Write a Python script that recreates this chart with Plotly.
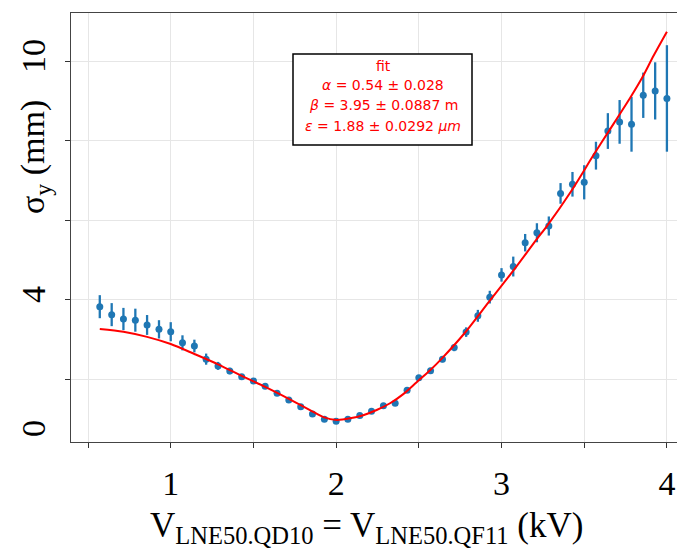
import plotly.graph_objects as go

# ---- data ----
x_kv = [0.571, 0.643, 0.714, 0.786, 0.857, 0.929, 1.0, 1.071, 1.143, 1.214,
        1.286, 1.357, 1.429, 1.5, 1.571, 1.643, 1.714, 1.786, 1.857, 1.929,
        2.0, 2.071, 2.143, 2.214, 2.286, 2.357, 2.429, 2.5, 2.571, 2.643,
        2.714, 2.786, 2.857, 2.929, 3.0, 3.071, 3.143, 3.214, 3.286, 3.357,
        3.429, 3.5, 3.571, 3.643, 3.714, 3.786, 3.857, 3.929, 4.0]
sigma_y = [3.82, 3.62, 3.51, 3.48, 3.36, 3.25, 3.19, 2.91, 2.83, 2.50,
           2.33, 2.20, 2.06, 1.95, 1.82, 1.64, 1.47, 1.30, 1.12, 0.99,
           0.94, 0.99, 1.08, 1.19, 1.33, 1.39, 1.72, 2.03, 2.21, 2.50,
           2.79, 3.18, 3.59, 4.06, 4.62, 4.83, 5.43, 5.68, 5.85, 6.67,
           6.90, 6.95, 7.62, 8.24, 8.47, 8.41, 9.14, 9.25, 9.06]
sigma_err = [0.29, 0.29, 0.28, 0.29, 0.25, 0.23, 0.24, 0.19, 0.16, 0.14,
             0.10, 0.08, 0.06, 0.05, 0.05, 0.04, 0.04, 0.04, 0.04, 0.03,
             0.03, 0.03, 0.04, 0.04, 0.04, 0.05, 0.05, 0.06, 0.07, 0.08,
             0.09, 0.12, 0.15, 0.16, 0.17, 0.25, 0.22, 0.24, 0.24, 0.26,
             0.31, 0.43, 0.35, 0.45, 0.55, 0.69, 0.57, 0.72, 1.34]

fit_x = [0.571, 0.714, 0.857, 1.0, 1.143, 1.286, 1.429, 1.571, 1.714, 1.842,
         1.923, 2.004, 2.084, 2.164, 2.245, 2.326, 2.406, 2.487, 2.568, 2.64,
         2.78, 2.92, 3.07, 3.21, 3.28, 3.42, 3.56, 3.64, 3.78, 3.85, 3.92, 4.0]
fit_y = [3.26, 3.19, 3.06, 2.88, 2.63, 2.37, 2.08, 1.80, 1.50, 1.22,
         1.04, 0.97, 1.01, 1.09, 1.22, 1.39, 1.62, 1.92, 2.22, 2.52,
         3.17, 3.92, 4.72, 5.50, 5.88, 6.72, 7.66, 8.18, 9.09, 9.58, 10.14, 10.74]

x_tickvals = [0.5, 1.0, 1.5, 2.0, 2.5, 3.0, 3.5, 4.0]
x_ticktext = ["", "1", "", "2", "", "3", "", "4"]
y_tickvals = [2, 4, 6, 8, 10]
y_ticktext = ["", "4", "", "", "10"]

fit_lines = ["fit",
             "<i>α</i> = 0.54 ± 0.028",
             "<i>β</i> = 3.95 ± 0.0887 m",
             "<i>ε</i> = 1.88 ± 0.0292 <i>μm</i>"]

SERIF = "Liberation Serif, DejaVu Serif, serif"
BLUE = "#1f77b4"

W, H = 677, 550
ML, MR, MT, MB = 71, 0, 13, 108
PW, PH = W - ML - MR, H - MT - MB


def px_x(px):
    return (px - ML) / PW


def px_y(py):
    return (H - MB - py) / PH


fig = go.Figure()
fig.add_trace(go.Scatter(
    x=x_kv, y=sigma_y, mode="markers",
    marker=dict(color=BLUE, size=7),
    error_y=dict(type="data", array=sigma_err, color=BLUE, thickness=2.3, width=0),
    showlegend=False,
))
fig.add_trace(go.Scatter(
    x=fit_x, y=fit_y, mode="lines",
    line=dict(color="#ff0000", width=2, shape="spline", smoothing=0.8),
    showlegend=False,
))

fig.update_layout(
    width=W, height=H,
    margin=dict(l=ML, r=MR, t=MT, b=MB),
    paper_bgcolor="white", plot_bgcolor="white",
    showlegend=False,
    xaxis=dict(
        range=[0.397, 4.061], automargin=False,
        tickmode="array", tickvals=x_tickvals, ticktext=x_ticktext,
        ticks="outside", ticklen=5, tickwidth=1, tickcolor="#333",
        showgrid=True, gridcolor="#e6e6e6", gridwidth=1,
        showline=True, linecolor="#444", linewidth=1.3, mirror=True,
        zeroline=False,
        tickfont=dict(family=SERIF, size=34, color="black"),
        ticklabelstandoff=6,
    ),
    yaxis=dict(
        range=[0.415, 11.21], automargin=False,
        tickmode="array", tickvals=y_tickvals, ticktext=y_ticktext,
        ticks="outside", ticklen=5, tickwidth=1, tickcolor="#333",
        showgrid=True, gridcolor="#e6e6e6", gridwidth=1,
        showline=True, linecolor="#444", linewidth=1.3, mirror=False,
        zeroline=False,
        tickangle=-90,
        tickfont=dict(family=SERIF, size=34, color="black"),
        ticklabelstandoff=6,
    ),
)

# legend-like fit box
fig.add_shape(type="rect", xref="paper", yref="paper",
              x0=px_x(293), x1=px_x(472), y0=px_y(145), y1=px_y(54),
              line=dict(color="black", width=1.5), fillcolor="white", layer="above")
for txt, py in zip(fit_lines, [66, 85, 105.5, 126]):
    fig.add_annotation(xref="paper", yref="paper", x=px_x(383), y=px_y(py),
                       text=txt, showarrow=False, xanchor="center", yanchor="middle",
                       font=dict(family="DejaVu Sans", size=14, color="#ff0000"))

# "0" label on y axis (placed as in reference)
fig.add_annotation(xref="paper", yref="paper", x=px_x(33), y=px_y(429),
                   text="0", showarrow=False, textangle=-90,
                   xanchor="center", yanchor="middle",
                   font=dict(family=SERIF, size=34, color="black"))

# axis titles
fig.add_annotation(xref="paper", yref="paper", x=px_x(35), y=px_y(157),
                   text="σ<sub>y</sub> (mm)", showarrow=False, textangle=-90,
                   xanchor="center", yanchor="middle",
                   font=dict(family=SERIF, size=34, color="black"))
fig.add_annotation(xref="paper", yref="paper", x=px_x(366), y=px_y(527),
                   text="V<sub>LNE50.QD10</sub> = V<sub>LNE50.QF11</sub> (kV)",
                   showarrow=False, xanchor="center", yanchor="middle",
                   font=dict(family=SERIF, size=35, color="black"))

fig.write_html("out.html",
               config={"displayModeBar": False},
               post_script="document.body.style.margin='0';document.body.style.overflow='hidden';")
